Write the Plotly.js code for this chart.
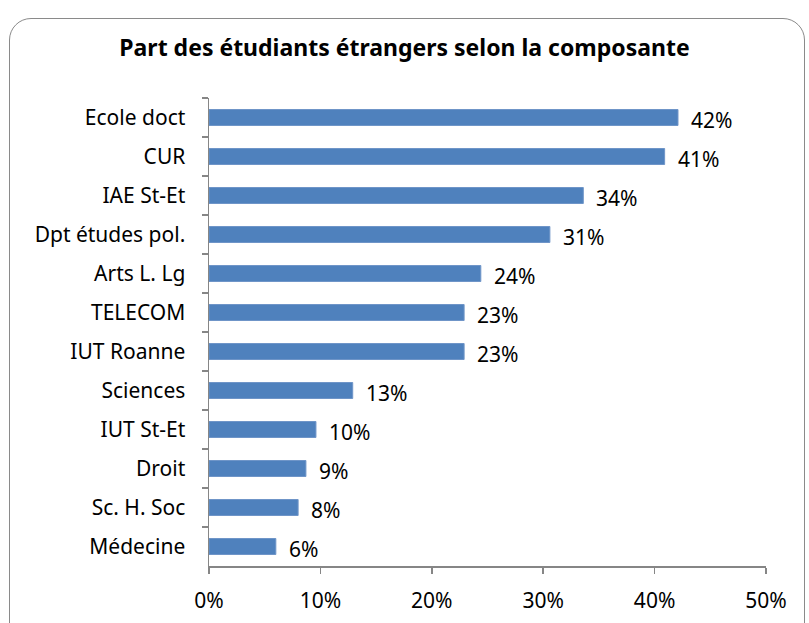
<!DOCTYPE html>
<html><head><meta charset="utf-8">
<script src="https://cdn.plot.ly/plotly-3.0.1.min.js"></script>
<style>
html,body{margin:0;padding:0;background:#fff;}
#frame{position:absolute;left:9px;top:18px;width:796px;height:640px;border:1.5px solid #8a8a8a;border-radius:22px;box-sizing:border-box;}
#chart{position:absolute;left:0;top:0;width:809px;height:623px;}
</style></head>
<body>
<div id="frame"></div>
<div id="chart"></div>
<script>
const categories = ["Ecole doct","CUR","IAE St-Et","Dpt études pol.","Arts L. Lg","TELECOM","IUT Roanne","Sciences","IUT St-Et","Droit","Sc. H. Soc","Médecine"];
const values = [0.421, 0.409, 0.336, 0.306, 0.244, 0.229, 0.229, 0.129, 0.096, 0.087, 0.080, 0.060];
const xTicks = [0, 0.1, 0.2, 0.3, 0.4, 0.5];
const xTickLabels = ["0%","10%","20%","30%","40%","50%"];

const font = "Noto Sans, Open Sans, sans-serif";
const labels = values.map(v => Math.round(v*100) + "%");

const trace = {
  type: "bar", orientation: "h",
  y: categories, x: values,
  width: 0.41,
  marker: {color: "#4F81BD", line: {color: "#6f95c8", width: 1}},
  hoverinfo: "none"
};

const annotations = values.map((v, i) => ({
  x: v, y: categories[i], xref: "x", yref: "y",
  text: labels[i], showarrow: false, xanchor: "left", yanchor: "middle",
  xshift: 11, yshift: -2,
  font: {family: font, size: 21, color: "#000"}
}));

const layout = {
  width: 809, height: 623,
  margin: {l: 209, r: 43, t: 97.5, b: 56.5},
  paper_bgcolor: "rgba(0,0,0,0)", plot_bgcolor: "rgba(0,0,0,0)",
  title: {text: "<b>Part des étudiants étrangers selon la composante</b>",
          font: {family: font, size: 23, color: "#000"}, x: 0.5, xanchor: "center", y: 0.923, yanchor: "middle"},
  showlegend: false,
  xaxis: {range: [0, 0.5], tickvals: xTicks, ticktext: xTickLabels,
          showgrid: false, zeroline: false, showline: true, linecolor: "#868686", linewidth: 1.5,
          ticks: "outside", ticklen: 6, tickcolor: "#868686", tickwidth: 1.5,
          tickfont: {family: font, size: 21, color: "#000"}, ticklabelstandoff: 9, fixedrange: true},
  yaxis: {type: "category", autorange: "reversed", tickson: "boundaries",
          showgrid: false, zeroline: false, showline: true, linecolor: "#868686", linewidth: 1.5,
          ticks: "outside", ticklen: 6, tickcolor: "#868686", tickwidth: 1.5,
          tickfont: {family: font, size: 21, color: "#000"}, ticklabelstandoff: 18, fixedrange: true},
  annotations: annotations
};

Plotly.newPlot("chart", [trace], layout, {displayModeBar: false, staticPlot: true});
</script>
</body></html>
